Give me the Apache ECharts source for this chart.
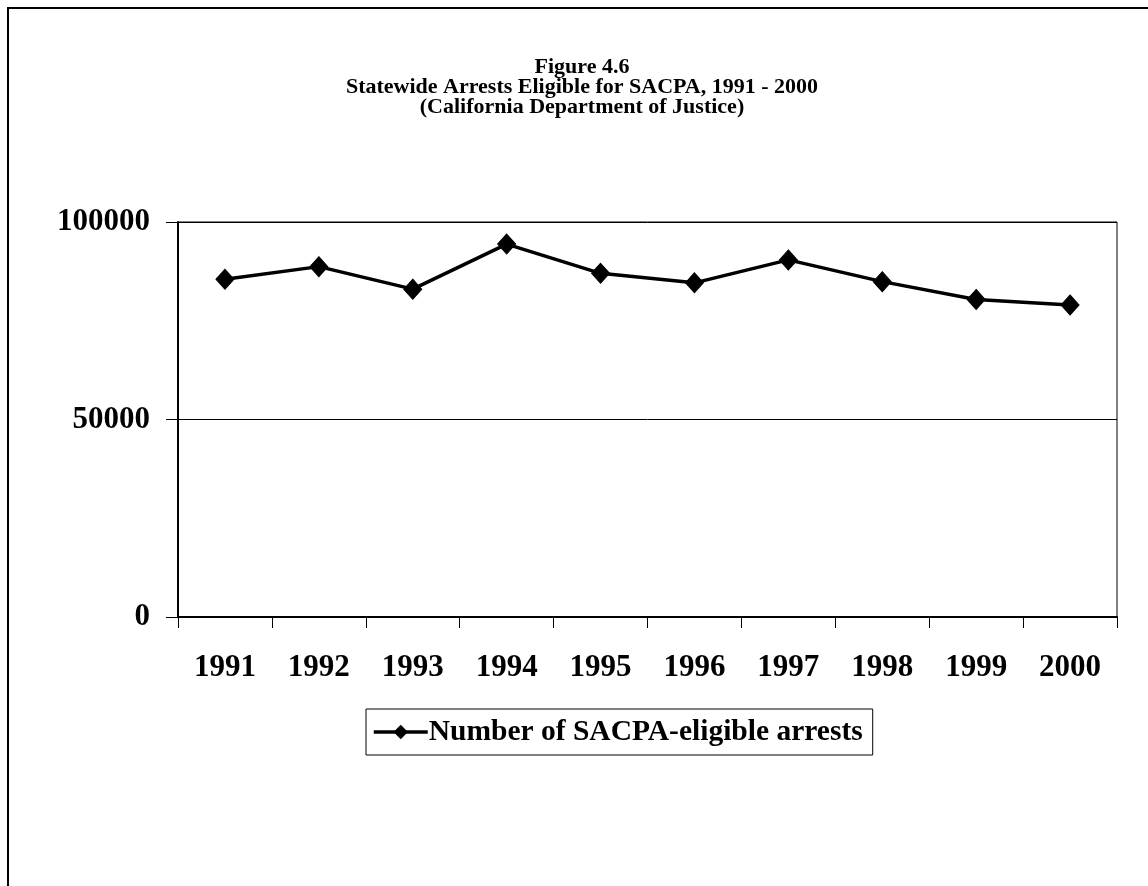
<!DOCTYPE html>
<html>
<head>
<meta charset="utf-8">
<script src="https://cdn.jsdelivr.net/npm/echarts@6/dist/echarts.min.js"></script>
<style>
html, body { margin: 0; padding: 0; background: #fff; }
#chart { width: 1148px; height: 886px; }
</style>
</head>
<body>
<div id="chart"></div>
<script>
var years = ['1991', '1992', '1993', '1994', '1995', '1996', '1997', '1998', '1999', '2000'];
var arrests = [85500, 88700, 83000, 94400, 87000, 84600, 90400, 84900, 80400, 79000];
var seriesName = 'Number of SACPA-eligible arrests';
var titleLines = ['Figure 4.6', 'Statewide Arrests Eligible for SACPA, 1991 - 2000', '(California Department of Justice)'];

var serif = '"Liberation Serif", "Times New Roman", serif';
var myChart = echarts.init(document.getElementById('chart'));

var option = {
    backgroundColor: '#fff',
    animation: false,
    title: {
        text: titleLines.join('\n'),
        left: 582,
        top: 57,
        textAlign: 'center',
        padding: 0,
        textStyle: {
            fontFamily: serif,
            fontWeight: 'bold',
            fontSize: 22,
            lineHeight: 20,
            color: '#000'
        }
    },
    graphic: [{
        type: 'rect',
        shape: { x: 8, y: 8, width: 1300, height: 1000 },
        style: { fill: 'none', stroke: '#000', lineWidth: 2 },
        silent: true
    }],
    legend: {
        data: [seriesName],
        left: 366,
        top: 709,
        padding: [8, 10, 8, 6],
        borderColor: '#000',
        borderWidth: 1,
        itemWidth: 54,
        itemHeight: 18,
        itemGap: 0,
        lineStyle: { width: 3.5, color: '#000' },
        textStyle: {
            fontFamily: serif,
            fontWeight: 'bold',
            fontSize: 29.5,
            color: '#000',
            padding: [0, 0, 0, -4]
        }
    },
    grid: {
        left: 178,
        right: 31,
        top: 222,
        bottom: 269,
        show: true,
        borderColor: '#000',
        borderWidth: 1,
        containLabel: false
    },
    xAxis: {
        type: 'category',
        data: years,
        boundaryGap: true,
        axisLine: { lineStyle: { color: '#000', width: 2 } },
        axisTick: { show: true, length: 11, lineStyle: { color: '#000', width: 1 } },
        axisLabel: {
            margin: 35,
            fontFamily: serif,
            fontWeight: 'bold',
            fontSize: 31,
            color: '#000'
        },
        splitLine: { show: false }
    },
    yAxis: {
        type: 'value',
        min: 0,
        max: 100000,
        interval: 50000,
        axisLine: { show: true, lineStyle: { color: '#000', width: 2 } },
        axisTick: { show: true, length: 12, lineStyle: { color: '#000', width: 1 } },
        axisLabel: {
            margin: 28,
            fontFamily: serif,
            fontWeight: 'bold',
            fontSize: 31,
            color: '#000',
            formatter: function (v) { return String(v); }
        },
        splitLine: { show: true, lineStyle: { color: '#000', width: 1 } }
    },
    series: [{
        name: seriesName,
        type: 'line',
        data: arrests,
        symbol: 'diamond',
        symbolSize: [18, 20],
        lineStyle: { color: '#000', width: 3.5 },
        itemStyle: { color: '#000', borderColor: '#000' }
    }]
};

myChart.setOption(option);
</script>
</body>
</html>
